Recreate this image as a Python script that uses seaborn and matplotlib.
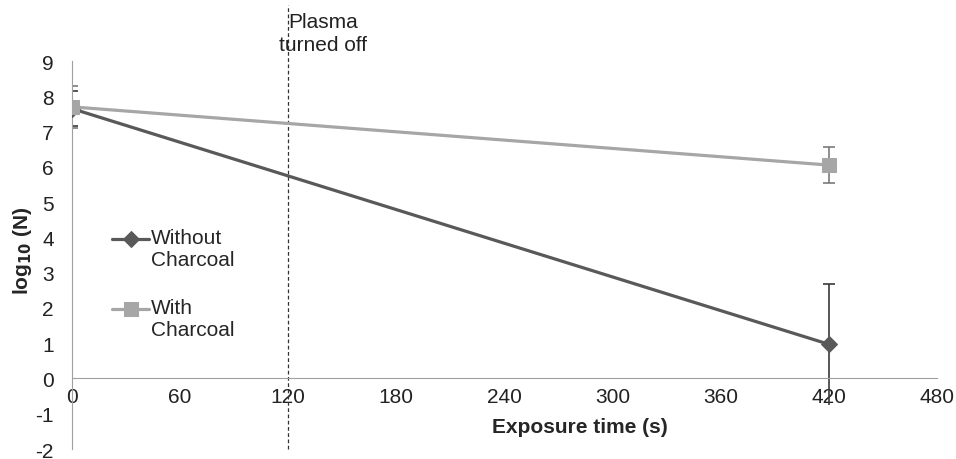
import pandas as pd
import matplotlib
matplotlib.use("Agg")
import matplotlib.pyplot as plt
from matplotlib.legend_handler import HandlerLine2D
import seaborn as sns

# Data
time_s = [0, 420]
without_charcoal = [7.65, 0.97]
without_err = [0.5, 1.72]
with_charcoal = [7.7, 6.05]
with_err = [0.6, 0.5]
series_names = ["Without\nCharcoal", "With\nCharcoal"]
x_ticks = [0, 60, 120, 180, 240, 300, 360, 420, 480]
y_ticks = list(range(-2, 10))
plasma_off = 120

df = pd.DataFrame({
    "time": time_s * 2,
    "logN": without_charcoal + with_charcoal,
    "err": without_err + with_err,
    "series": [series_names[0]] * 2 + [series_names[1]] * 2,
})

sns.set_style("white")
plt.rcParams["font.family"] = ["Liberation Sans", "DejaVu Sans"]
plt.rcParams["axes.unicode_minus"] = False
FS = 15


# legend handle sits beside the first line of a two-line label (Excel style)
class HandlerTop(HandlerLine2D):
    def create_artists(self, legend, orig_handle, xdescent, ydescent,
                       width, height, fontsize, trans):
        return super().create_artists(legend, orig_handle, xdescent,
                                      ydescent - 14, width, height,
                                      fontsize, trans)


fig = plt.figure(figsize=(9.56, 4.6), dpi=100)
ax = fig.add_axes([0.0753, 0.0217, 0.9047, 0.8435])

colors = {series_names[0]: "#595959", series_names[1]: "#a6a6a6"}
markers = {series_names[0]: "D", series_names[1]: "s"}
sizes = {series_names[0]: 8, series_names[1]: 10}
err_colors = {series_names[0]: "#3a3a3a", series_names[1]: "#7a7a7a"}

# error bars (the lower cap of the 420 s "without" bar hides behind the tick label)
for name, g in df.groupby("series", sort=False):
    for t, v, e in zip(g["time"], g["logN"], g["err"]):
        eb = ax.errorbar([t], [v], yerr=[[e], [e]], fmt="none",
                         ecolor=err_colors[name], elinewidth=1.2,
                         capsize=4, capthick=1.2, zorder=2)
        if v - e < 0:
            eb[1][0].set_visible(False)

for name in series_names:
    g = df[df["series"] == name]
    sns.lineplot(data=g, x="time", y="logN", ax=ax, color=colors[name],
                 marker=markers[name], markersize=sizes[name],
                 markeredgecolor=colors[name], linewidth=2.3,
                 label=name, zorder=3)

# dashed line for plasma off
ax.plot([plasma_off, plasma_off], [-2, 10.6], ls=(0, (3, 2)), color="#333333",
        lw=0.9, clip_on=False, zorder=1)
ax.text(139.3, 10.4, "Plasma\nturned off", ha="center", va="top",
        fontsize=FS, color="#222222", linespacing=1.3)

ax.set_xlim(0, 480)
ax.set_ylim(-2, 9)
ax.set_xticks(x_ticks)
ax.set_yticks(y_ticks)
ax.tick_params(axis="both", labelsize=FS, colors="#222222")
ax.tick_params(axis="y", length=5, direction="out", color="#a0a0a0", width=1, pad=8)
ax.tick_params(axis="x", length=5, direction="in", color="#a0a0a0", width=1, pad=6)

for s in ["top", "right"]:
    ax.spines[s].set_visible(False)
ax.spines["bottom"].set_position(("data", 0))
ax.spines["bottom"].set_color("#a0a0a0")
ax.spines["left"].set_color("#a0a0a0")

ax.set_xlabel("Exposure time (s)", fontsize=FS, fontweight="bold")
ax.xaxis.set_label_coords(0.587, 0.082)
ax.set_ylabel(r"log$_{\mathbf{10}}$ (N)", fontsize=FS, fontweight="bold")
ax.yaxis.set_label_coords(-0.044, 0.513)

handles, labels = ax.get_legend_handles_labels()
leg = ax.legend(handles, labels, loc="upper left",
                bbox_to_anchor=(0.046, 0.57), frameon=False,
                fontsize=FS, handlelength=1.8, handletextpad=0.1,
                labelspacing=1.4, borderpad=0, borderaxespad=0,
                handler_map={h: HandlerTop() for h in handles})
for h in leg.legend_handles:
    h.set_linewidth(2.3)

fig.savefig("out.png", dpi=100)
